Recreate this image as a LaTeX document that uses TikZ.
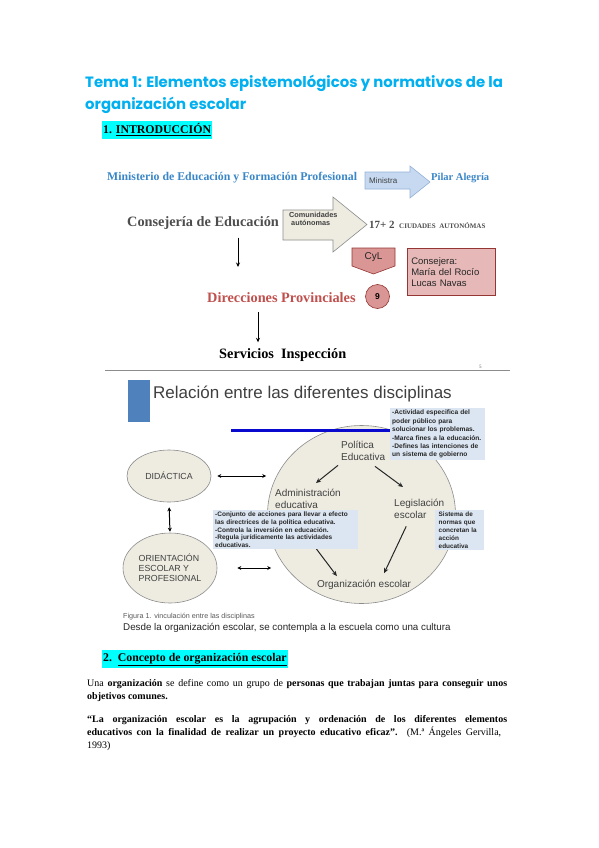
\documentclass[tikz,border=0pt]{standalone}
\usepackage{fontspec}
\setmainfont{Liberation Serif}
\setsansfont{Liberation Sans}
\newfontfamily\temafont{Poppins}
\usetikzlibrary{positioning, shapes.geometric, arrows.meta, calc}
\definecolor{temaBlue}{HTML}{00B0F0}
\definecolor{hlCyan}{HTML}{00FFFF}
\definecolor{minBlue}{HTML}{3A87C8}
\definecolor{arrBlue}{HTML}{C6D9F1}
\definecolor{arrBlueD}{HTML}{95B3D7}
\definecolor{beige}{HTML}{EEECE1}
\definecolor{rose}{HTML}{D99694}
\definecolor{roseD}{HTML}{943634}
\definecolor{pinkBox}{HTML}{E6B9B8}
\definecolor{dirRed}{HTML}{C0504D}
\definecolor{consGray}{HTML}{4D4D4D}
\definecolor{slideGray}{HTML}{404040}
\definecolor{slideBlue}{HTML}{4F81BD}
\definecolor{lineBlue}{HTML}{0A0ACF}
\definecolor{infoBlue}{HTML}{DCE6F2}
\colorlet{rule}{black!45}
\tikzset{
  txt/.style   ={inner sep=0pt, anchor=west},
  tema/.style  ={txt, anchor=base west, text=temaBlue,
                 font=\temafont\bfseries\fontsize{14.9}{17}\selectfont},
  secc/.style  ={anchor=base west, fill=hlCyan, inner xsep=1pt,
                 inner ysep=2.5pt, font=\bfseries\fontsize{11.8}{13}\selectfont},
  body/.style  ={txt, anchor=base west, font=\fontsize{10}{12}\selectfont},
  org/.style   ={txt, font=\bfseries\fontsize{14.3}{16}\selectfont},
  blk/.style   ={line width=0.6pt},
  drop/.style  ={-{Stealth[length=4.5pt, width=4pt]}, line width=0.9pt},
  disc/.style  ={ellipse, draw=rule, fill=beige, line width=0.6pt,
                 inner sep=0pt, text=slideGray, align=left,
                 font=\sffamily\fontsize{8.8}{10.2}\selectfont},
  lbl/.style   ={inner sep=0pt, anchor=north west, align=left, text=slideGray,
                 font=\sffamily\fontsize{10}{11.5}\selectfont},
  info/.style  ={anchor=north west, fill=infoBlue, inner sep=2pt, align=left,
                 text=black!85},
  flow/.style  ={-{Stealth[length=5pt, width=4.5pt]}, line width=1pt,
                 black!85},
  both/.style  ={{Stealth[length=4pt, width=4pt]}-{Stealth[length=4pt, width=4pt]},
                 line width=1pt},
}

\begin{document}
\begin{tikzpicture}[x=1pt, y=-1pt]
\useasboundingbox[fill=white] (0,0) rectangle (599,848);

\node[tema] (t1) at (85,88) {Tema 1: Elementos epistemológicos y normativos de la};
\node[tema] (t2) at (85,110) {organización escolar};
\node[secc] (s1) at (102,134) {1. \underline{INTRODUCCIÓN}};

% organigrama
\node[org, text=minBlue, font=\bfseries\fontsize{11.8}{13}\selectfont] (min)
  at (107,178) {Ministerio de Educación y Formación Profesional};
\draw[blk, fill=arrBlue, draw=arrBlueD] (365,172) -- (410,172) -- (410,166)
  -- (430,182) -- (410,198) -- (410,189) -- (365,189) -- cycle;
\node[txt, font=\sffamily\fontsize{8}{9}\selectfont, text=slideGray] (mta)
  at (369,181) {Ministra};
\node[org, text=minBlue, font=\bfseries\fontsize{10.5}{12}\selectfont] (pil)
  at (431,178) {Pilar Alegría};

\node[org, text=consGray] (cons) at (127,223) {Consejería de Educación};
\draw[blk, fill=beige, draw=rule] (283,210) -- (333,210) -- (333,197)
  -- (367,224.5) -- (333,252) -- (333,240) -- (283,240) -- cycle;
\node[txt, anchor=north west, align=left, text=slideGray,
  font=\sffamily\bfseries\fontsize{7.3}{8}\selectfont] (com)
  at (289,212) {Comunidades\\\ autónomas};
\node[org, text=consGray, font=\bfseries\fontsize{11}{13}\selectfont] (ccaa)
  at (369,225) {17+ 2 {\fontsize{7}{8}\selectfont\ CIUDADES\ \ AUTONÓMAS}};

\coordinate (consEnd) at (238,267);
\draw[drop, shorten <=8pt] (cons.south -| consEnd) -- (consEnd);

\draw[blk, fill=rose, draw=roseD] (352,248) -- (395,248) -- (395,266)
  -- (373.5,274) -- (352,266) -- cycle;
\node[font=\sffamily\fontsize{10}{12}\selectfont, text=black!85] (cyl)
  at (373.5,257.5) {CyL};
\node[draw=roseD, fill=pinkBox, blk, anchor=north west, minimum width=88pt,
  minimum height=47pt, text width=80pt, align=left, inner xsep=4pt,
  font=\sffamily\fontsize{9.5}{11}\selectfont, text=black!85] (csj)
  at (407,248) {Consejera:\\María del Rocío\\Lucas Navas};

\node[org, text=dirRed] (dir) at (207,298) {Direcciones Provinciales};
\node[circle, draw=roseD, fill=rose, blk, minimum size=24pt, inner sep=0pt,
  font=\sffamily\bfseries\fontsize{8.5}{10}\selectfont] (nine)
  at (377.5,296.5) {9};

\node[org, text=black] (serv) at (219,355) {Servicios\ \ Inspección};
\coordinate (dirDrop) at (258,0);
\draw[drop, shorten <=9pt, shorten >=6pt] (dir.south -| dirDrop)
  -- (serv.north -| dirDrop);
\node[txt, font=\fontsize{5}{6}\selectfont, text=black!60] (pg)
  at (479,367) {5};
\draw[rule, line width=0.8pt] (105,370) -- (510,370);

% relacion entre disciplinas
\fill[slideBlue] (128,380) rectangle (150,422);
\node[txt, anchor=base west, text=slideGray,
  font=\sffamily\fontsize{17}{20}\selectfont] (rel)
  at (153,398) {Relación entre las diferentes disciplinas};

\node[disc, minimum width=188pt, minimum height=178pt] (cir) at (361.5,514.5) {};
\draw[lineBlue, line width=3pt] (231,430) -- (392,430);
\node[disc, minimum width=84pt, minimum height=52pt] (did) at (169,476) {DIDÁCTICA};
\node[disc, minimum width=94pt, minimum height=70pt] (ori)
  at (170,568) {ORIENTACIÓN\\ESCOLAR Y\\PROFESIONAL};

\node[lbl] (pol) at (341,441) {Política\\Educativa};
\node[lbl] (adm) at (275,489) {Administración\\educativa};
\node[lbl] (leg) at (394,499) {Legislación\\escolar};
\node[lbl, anchor=center] (org) at (364,585) {Organización escolar};

\draw[flow] ($(pol.south west)+(-3,5)$) -- ($(adm.north)+(8,-6)$);
\draw[flow] ($(pol.south west)+(34,6)$) -- ($(leg.north west)+(9,-12)$);
\draw[flow] ($(adm.south)+(2,32)$) -- ($(org.north west)+(20,-4)$);
\draw[flow] ($(leg.south)+(-13,8)$) -- ($(org.north east)+(-27,-7)$);

\draw[both, shorten <=6pt, shorten >=1pt] (did.east) -- (did.east -| cir.west);
\draw[both, shorten <=20pt] (ori.east) -- ($(ori.east -| cir.west)+(4,0)$);
\draw[both, shorten <=5pt, shorten >=1pt] (did.south) -- (ori.north);

\node[info, text width=91pt, font=\sffamily\bfseries\fontsize{6.6}{8.4}\selectfont]
  (i1) at (390,408)
  {-Actividad especifica del\\poder público para\\solucionar los problemas.\\
   -Marca fines a la educación.\\-Defines las intenciones de\\un sistema de gobierno};
\node[info, text width=141pt, font=\sffamily\bfseries\fontsize{6.5}{7.6}\selectfont]
  (i2) at (213,510)
  {-Conjunto de acciones para llevar a efecto\\las directrices de la política educativa.\\
   -Controla la inversión en educación.\\-Regula jurídicamente las actividades\\educativas.};
\node[info, text width=42pt, inner xsep=3.5pt,
  font=\sffamily\bfseries\fontsize{6.4}{7.8}\selectfont]
  (i3) at (435,510) {Sistema de\\normas que\\concretan la\\acción\\educativa};

\node[txt, anchor=base west, text=black!65,
  font=\sffamily\fontsize{7.2}{8}\selectfont] (fig)
  at (123,618) {Figura 1. vinculación entre las disciplinas};
\node[txt, anchor=base west, text=black!85,
  font=\sffamily\fontsize{9.8}{11}\selectfont] (cult)
  at (123,630) {Desde la organización escolar, se contempla a la escuela como una cultura};

% concepto
\node[secc] (s2) at (102,661) {2.\ \ \underline{Concepto de organización escolar}};
\node[body] (p1) at (87,686) {\makebox[420pt][s]{Una \textbf{organización} se define
  como un grupo de \textbf{personas que trabajan juntas para conseguir unos}}};
\node[body] (p2) at (87,699) {\textbf{objetivos comunes.}};
\node[body] (q1) at (87,722) {\makebox[420pt][s]{\textbf{“La organización escolar es
  la agrupación y ordenación de los diferentes elementos}}};
\node[body] (q2) at (87,735) {\makebox[414pt][s]{\textbf{educativos con la finalidad de
  realizar un proyecto educativo eficaz”.} (M.ª Ángeles Gervilla,}};
\node[body] (q3) at (87,748) {1993)};
\end{tikzpicture}
\end{document}
